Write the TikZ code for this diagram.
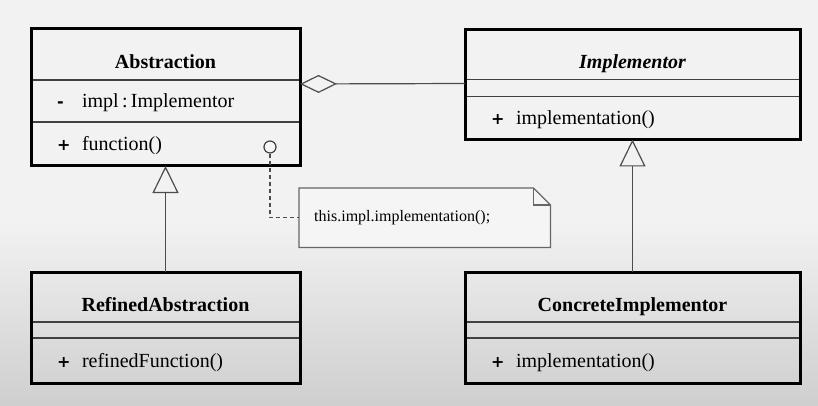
\documentclass[tikz,border=0pt]{standalone}
\usepackage{fontspec}
\setmainfont{Liberation Serif}
\newfontfamily\symfont{DejaVu Sans}
\usetikzlibrary{positioning,arrows.meta}

\newcommand\vis[1]{\makebox[25pt][l]{\symfont\bfseries\fontsize{16}{19}\selectfont#1}}

\begin{document}
\begin{tikzpicture}[x=1pt,y=-1pt,font=\fontsize{20}{24}\selectfont,
    box/.style={draw=black!75,line width=1.6pt,outer sep=0pt,inner sep=0pt},
    head/.style={box,minimum width=#1,minimum height=51pt,text height=29pt,
                 text depth=0pt,font=\fontsize{20}{24}\selectfont\bfseries},
    part/.style={box,text width=#1-52pt,inner xsep=26pt,align=left,
                 text height=17pt,text depth=4pt},
    frame/.style={draw=black,line width=3pt},
    link/.style={draw=black!70,line width=1.2pt},
    gen/.style={link,-{Triangle[open,length=27pt,width=26pt]}},
    agg/.style={link,{Diamond[open,length=37pt,width=18pt]}-},
    note/.style={inner xsep=15pt,inner ysep=0pt,minimum width=251pt,minimum height=59pt,
                 text width=221pt,align=left,font=\fontsize{16}{19}\selectfont}]

  % background
  \fill[black!5] (0,0) rectangle (818,220);
  \shade[top color=black!5,bottom color=black!19] (0,220) rectangle (818,406);
  \useasboundingbox (0,0) rectangle (818,406);

  % Abstraction
  \node[head=269pt,anchor=north west] (absT) at (31,29) {Abstraction};
  \node[part=269pt,minimum height=42pt,below=0pt of absT] (absA) {\vis{-}impl\,:\,Implementor};
  \node[part=269pt,minimum height=44pt,below=0pt of absA] (absM) {\vis{+}function()};
  \draw[frame] (absT.north west) rectangle (absM.south east);

  % Implementor
  \node[head=335pt,minimum height=50pt,right=165pt of absT] (implT) {\itshape Implementor};
  \node[part=335pt,minimum height=17pt,text height=0pt,text depth=0pt,below=0pt of implT] (implA) {};
  \node[part=335pt,minimum height=43pt,below=0pt of implA] (implM) {\vis{+}implementation()};
  \draw[frame] (implT.north west) rectangle (implM.south east);

  % RefinedAbstraction
  \node[head=269pt,minimum height=50pt,below=106pt of absM] (refT) {RefinedAbstraction};
  \node[part=269pt,minimum height=16pt,text height=0pt,text depth=0pt,below=0pt of refT] (refA) {};
  \node[part=269pt,minimum height=45pt,below=0pt of refA] (refM) {\vis{+}refinedFunction()};
  \draw[frame] (refT.north west) rectangle (refM.south east);

  % ConcreteImplementor
  \node[head=335pt,minimum height=50pt,right=165pt of refT] (conT) {ConcreteImplementor};
  \node[part=335pt,minimum height=16pt,text height=0pt,text depth=0pt,below=0pt of conT] (conA) {};
  \node[part=335pt,minimum height=45pt,below=0pt of conA] (conM) {\vis{+}implementation()};
  \draw[frame] (conT.north west) rectangle (conM.south east);

  % note
  \node[note,anchor=north west] (note) at (299,188) {this.impl.implementation();};
  \draw[link,draw=black!60,fill=black!4] (note.north west) -- ([xshift=-17pt]note.north east)
     -- ([yshift=-17pt]note.north east) -- (note.south east) -- (note.south west) -- cycle;
  \draw[link,draw=black!60] ([xshift=-17pt]note.north east) |- ([yshift=-17pt]note.north east);
  \node[note,anchor=north west] at (note.north west) {this.impl.implementation();};
  \node[circle,draw=black!75,line width=1.2pt,minimum size=12pt,inner sep=0pt,
        fill=black!4] (hook) at ([xshift=-30pt,yshift=-3pt]absM.east) {};

  \path (refT) edge[gen] (absM)
        (conT) edge[gen] (implM)
        ([yshift=-4pt]absT.south east) edge[agg] ([yshift=-4pt]implT.south west);
  \draw[link,dashed,dash pattern=on 4pt off 3pt] (hook.south) |- (note.west);
\end{tikzpicture}
\end{document}
